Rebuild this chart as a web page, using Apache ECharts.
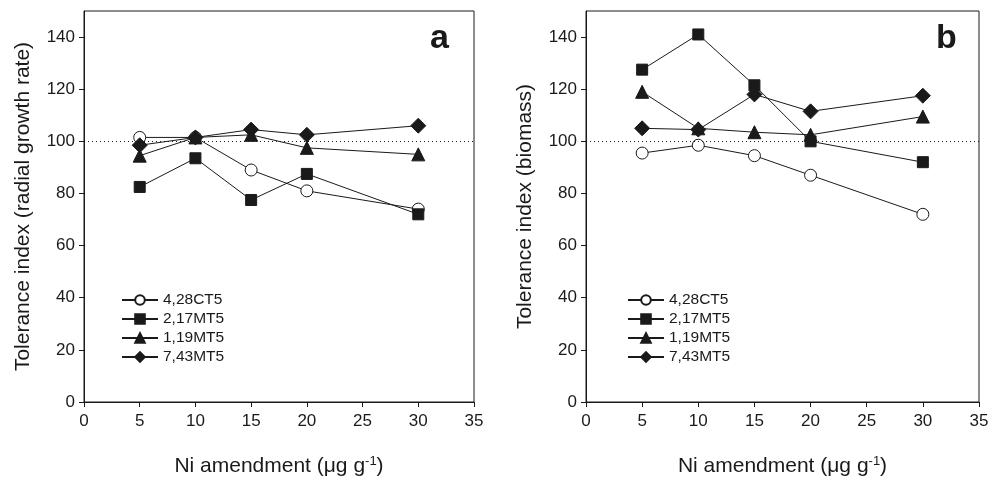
<!DOCTYPE html>
<html>
<head>
<meta charset="utf-8">
<script src="https://cdn.jsdelivr.net/npm/echarts@6/dist/echarts.min.js"></script>
<style>
  html, body { margin: 0; padding: 0; background: #fff; }
  #chart { width: 998px; height: 478px; }
</style>
</head>
<body>
<div id="chart"></div>
<script>
// Ni amendment (x) for every series
const niDose = [5, 10, 15, 20, 30]
const yTicks = [0, 20, 40, 60, 80, 100, 120, 140]
const isolates = ['4,28CT5', '2,17MT5', '1,19MT5', '7,43MT5']

// panel a: radial growth rate
const growth428CT5 = [101.5, 101.5, 89, 81, 74]
const growth217MT5 = [82.5, 93.5, 77.5, 87.5, 72]
const growth119MT5 = [94.5, 101.5, 102.5, 97.5, 95]
const growth743MT5 = [98.5, 101.5, 104.5, 102.5, 106]

// panel b: biomass
const biomass428CT5 = [95.5, 98.5, 94.5, 87, 72]
const biomass217MT5 = [127.5, 141, 121.5, 100, 92]
const biomass119MT5 = [119, 105, 103.5, 102.5, 109.5]
const biomass743MT5 = [105, 104.5, 118, 111.5, 117.5]

const ink = '#1a1a1a'
const font = 'Liberation Sans, Arial, sans-serif'

// symbol style per isolate
const marks = [
  { symbol: 'circle', symbolSize: 12, fill: '#fff' },
  { symbol: 'rect', symbolSize: 11, fill: ink },
  { symbol: 'triangle', symbolSize: 13, fill: ink },
  { symbol: 'diamond', symbolSize: 15, fill: ink },
]

function pairs(ys) {
  return niDose.map((x, i) => [x, ys[i]])
}

function makeSeries(idx, sets) {
  return sets.map((ys, k) => ({
    name: isolates[k],
    type: 'line',
    xAxisIndex: idx,
    yAxisIndex: idx,
    data: pairs(ys),
    symbol: marks[k].symbol,
    symbolSize: marks[k].symbolSize,
    showAllSymbol: true,
    lineStyle: { color: ink, width: 1 },
    itemStyle: { color: marks[k].fill, borderColor: ink, borderWidth: 1 },
    emphasis: { disabled: true },
    animation: false,
    z: 3 + k,
    // 参考线 100
    markLine: k === 0 ? {
      silent: true,
      symbol: 'none',
      label: { show: false },
      lineStyle: { color: ink, type: [1, 3], width: 1 },
      data: [{ yAxis: 100 }],
    } : undefined,
  }))
}

function xAxisOf(idx) {
  return {
    type: 'value',
    gridIndex: idx,
    min: 0,
    max: 35,
    interval: 5,
    name: 'Ni amendment (μg g{sup|-1})',
    nameLocation: 'middle',
    nameGap: 53,
    nameTextStyle: {
      fontFamily: font, fontSize: 21, color: ink,
      rich: { sup: { fontFamily: font, fontSize: 13, color: ink, verticalAlign: 'top', padding: [0, 0, 9, 0] } },
    },
    axisLine: { lineStyle: { color: ink, width: 1 } },
    axisTick: { inside: false, length: 5, lineStyle: { color: ink } },
    axisLabel: { fontFamily: font, fontSize: 17, color: ink, margin: 11 },
    splitLine: { show: false },
  }
}

function yAxisOf(idx, title) {
  return {
    type: 'value',
    gridIndex: idx,
    min: 0,
    max: 150,
    interval: 20,
    name: title,
    nameLocation: 'middle',
    nameGap: 50,
    nameTextStyle: { fontFamily: font, fontSize: 21, color: ink },
    axisLine: { show: true, lineStyle: { color: ink, width: 1 } },
    axisTick: { length: 5, lineStyle: { color: ink }, customValues: yTicks },
    axisLabel: { fontFamily: font, fontSize: 17, color: ink, margin: 9, customValues: yTicks },
    splitLine: { show: false },
  }
}

function legendOf(left) {
  return {
    data: isolates,
    orient: 'vertical',
    left: left,
    top: 287,
    itemWidth: 36,
    itemHeight: 12,
    itemGap: 3,
    selectedMode: false,
    textStyle: { fontFamily: font, fontSize: 15.5, color: ink },
  }
}

const chart = echarts.init(document.getElementById('chart'), null, { renderer: 'canvas' })
chart.setOption({
  backgroundColor: '#fff',
  animation: false,
  grid: [
    { left: 84, right: 524, top: 11, bottom: 76, outerBoundsMode: 'none', containLabel: false, show: true, borderColor: ink, borderWidth: 1, backgroundColor: 'transparent' },
    { left: 586, right: 19, top: 11, bottom: 76, outerBoundsMode: 'none', containLabel: false, show: true, borderColor: ink, borderWidth: 1, backgroundColor: 'transparent' },
  ],
  xAxis: [xAxisOf(0), xAxisOf(1)],
  yAxis: [
    yAxisOf(0, 'Tolerance index (radial growth rate)'),
    yAxisOf(1, 'Tolerance index (biomass)'),
  ],
  legend: [legendOf(116), legendOf(622)],
  graphic: [
    { type: 'text', x: 430, y: 39, style: { text: 'a', fontFamily: font, fontSize: 34, fontWeight: 'bold', fill: ink, verticalAlign: 'middle' } },
    { type: 'text', x: 936, y: 39, style: { text: 'b', fontFamily: font, fontSize: 34, fontWeight: 'bold', fill: ink, verticalAlign: 'middle' } },
  ],
  series: [
    ...makeSeries(0, [growth428CT5, growth217MT5, growth119MT5, growth743MT5]),
    ...makeSeries(1, [biomass428CT5, biomass217MT5, biomass119MT5, biomass743MT5]),
  ],
})
</script>
</body>
</html>
